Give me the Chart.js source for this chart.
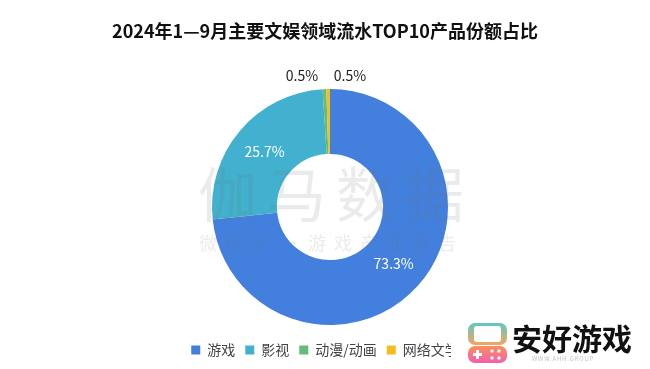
<!DOCTYPE html>
<html lang="zh-CN">
<head>
<meta charset="UTF-8">
<title>2024年1—9月主要文娱领域流水TOP10产品份额占比</title>
<style>
  html, body { margin: 0; padding: 0; background: #fff; }
  #wrap { width: 650px; height: 369px; }
</style>
<script src="https://cdn.jsdelivr.net/npm/chart.js"></script>
</head>
<body>
<div id="wrap"><canvas id="myChart" width="650" height="369"></canvas></div>
<script>
const categories = ['游戏', '影视', '动漫/动画', '网络文学'];
const shares = [73.3, 25.7, 0.5, 0.5];
const colors = ['#437fdc', '#41b1cf', '#62bd7d', '#f2bd1d'];
const chartTitle = '2024年1—9月主要文娱领域流水TOP10产品份额占比';
const font = '"Noto Sans CJK SC", "Noto Sans", sans-serif';

// percent labels: white inside the ring, dark above the two thin slices
const sliceLabels = {
  id: 'sliceLabels',
  afterDatasetsDraw(chart) {
    const { ctx } = chart;
    const arcs = chart.getDatasetMeta(0).data;
    ctx.save();
    ctx.font = '14px ' + font;
    ctx.textAlign = 'center';
    ctx.textBaseline = 'middle';
    arcs.forEach((arc, i) => {
      const text = shares[i].toFixed(1) + '%';
      if (shares[i] > 5) {
        const p = arc.tooltipPosition();
        ctx.fillStyle = '#fff';
        ctx.fillText(text, p.x, p.y);
      } else {
        ctx.fillStyle = '#222';
        ctx.fillText(text, arc.x + (i === 2 ? -28 : 20), arc.y - 131);
      }
    });
    ctx.restore();
  }
};

// 伽马数据 watermark sits on top of the ring
const watermark = {
  id: 'watermark',
  afterDatasetsDraw(chart) {
    const { ctx } = chart;
    ctx.save();
    ctx.fillStyle = 'rgba(110,110,110,0.14)';
    ctx.textBaseline = 'middle';
    ctx.font = '59px ' + font;
    ctx.letterSpacing = '10px';
    ctx.fillText('伽马数据', 198, 195);
    ctx.font = '18px ' + font;
    ctx.letterSpacing = '8px';
    ctx.fillText('微信号', 199, 243);
    ctx.fillText('·', 285, 243);
    ctx.fillText('游戏产业报告', 308, 243);
    ctx.restore();
  }
};

// site logo pasted over the corner, it hides the end of the legend
const logo = {
  id: 'logo',
  afterDraw(chart) {
    const { ctx } = chart;
    ctx.save();
    ctx.fillStyle = '#fff';
    ctx.fillRect(451, 326, 199, 43);

    let g = ctx.createLinearGradient(0, 323, 0, 345);
    g.addColorStop(0, '#5cc9c4');
    g.addColorStop(1, '#f5a65b');
    ctx.fillStyle = g;
    ctx.beginPath();
    ctx.roundRect(468, 323, 39, 22, 7);
    ctx.fill();
    ctx.fillStyle = '#fff';
    ctx.beginPath();
    ctx.roundRect(474, 326, 27, 16, 3);
    ctx.fill();

    g = ctx.createLinearGradient(0, 346, 0, 363);
    g.addColorStop(0, '#fb8f5a');
    g.addColorStop(1, '#f25fb0');
    ctx.fillStyle = g;
    ctx.beginPath();
    ctx.roundRect(468, 346, 39, 17, 7);
    ctx.fill();
    ctx.fillStyle = '#fff';
    ctx.fillRect(473, 353, 9, 3);
    ctx.fillRect(476, 350, 3, 9);
    [[492, 351], [499, 351], [492, 358], [499, 358]].forEach(d => {
      ctx.beginPath();
      ctx.arc(d[0], d[1], 1.7, 0, Math.PI * 2);
      ctx.fill();
    });

    ctx.fillStyle = '#111';
    ctx.textBaseline = 'middle';
    ctx.font = 'bold 30px ' + font;
    ctx.fillText('安好游戏', 512, 339);
    ctx.fillStyle = '#c9c0c0';
    ctx.font = '6px ' + font;
    ctx.letterSpacing = '0.8px';
    ctx.fillText('WWW.AHH.GROUP', 532, 359);
    ctx.restore();
  }
};

// ring sits a little right of the title and legend centre, and clear of the legend
const shiftRing = {
  id: 'shiftRing',
  afterLayout(chart) {
    const area = chart.chartArea;
    area.left += 10;
    area.width -= 10;
    area.bottom = 325;
    area.height = area.bottom - area.top;
  }
};

new Chart(document.getElementById('myChart'), {
  type: 'doughnut',
  data: {
    labels: categories,
    datasets: [{
      data: shares,
      backgroundColor: colors,
      borderWidth: 0
    }]
  },
  options: {
    responsive: false,
    animation: false,
    cutout: '45%',
    layout: { padding: { bottom: 2 } },
    plugins: {
      title: {
        display: true,
        text: chartTitle,
        color: '#111',
        font: { family: font, size: 18, weight: 'bold' },
        padding: { top: 20, bottom: 47.4 }
      },
      legend: {
        position: 'bottom',
        labels: {
          boxWidth: 9,
          boxHeight: 9,
          padding: 10,
          color: '#444',
          font: { family: font, size: 14 }
        }
      },
      tooltip: { enabled: false }
    }
  },
  plugins: [shiftRing, sliceLabels, watermark, logo]
});
</script>
</body>
</html>
